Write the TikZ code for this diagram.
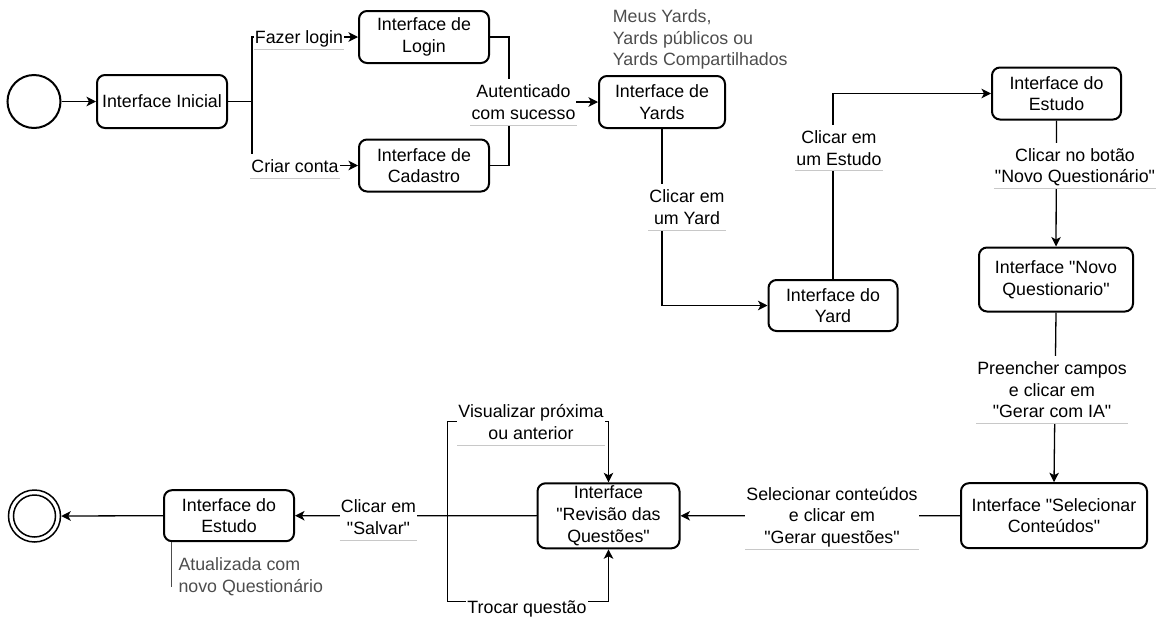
\documentclass[tikz,border=0pt]{standalone}
\usepackage{fontspec}
\setmainfont{Liberation Sans}[Ligatures=TeXOff]
\usetikzlibrary{arrows.meta,calc}
\definecolor{notegray}{RGB}{77,77,77}
\definecolor{ulgray}{RGB}{200,200,200}
\begin{document}
\begin{tikzpicture}[x=1pt,y=-1pt,
  every node/.style={font=\fontsize{17.8}{21.6}\selectfont},
  box/.style={draw,line width=2pt,rounded corners=8pt,align=center,inner sep=0pt,fill=white},
  edge/.style={line width=1.3pt},
  arr/.style={edge,-{Stealth[length=9.5pt,width=9.5pt,inset=2.5pt]}},
  lbl/.style={fill=white,align=center,inner xsep=1pt,inner ysep=5.5pt,text depth=0pt,anchor=south},
  ul/.style={draw=ulgray,line width=0.9pt},
  note/.style={text=notegray,align=left,inner sep=0pt,anchor=west},
]
\useasboundingbox (0,0) rectangle (1162,619);

% states
\node[circle,draw,line width=2pt,minimum size=53pt,inner sep=0pt] (start) at (34,101.5) {};
\node[box,minimum width=130pt,minimum height=53pt] (ini) at (162,101.5) {Interface Inicial};
\node[box,minimum width=130pt,minimum height=52pt] (login) at (424,37) {Interface de\\Login};
\node[box,minimum width=130pt,minimum height=52pt] (cad) at (424,165.5) {Interface de\\Cadastro};
\node[box,minimum width=126pt,minimum height=52pt] (yards) at (662,102) {Interface de\\Yards};
\node[box,minimum width=129pt,minimum height=51pt] (yard) at (833,305.5) {Interface do\\Yard};
\node[box,minimum width=129pt,minimum height=52pt] (estudo) at (1056.5,93.5) {Interface do\\Estudo};
\node[box,minimum width=154pt,minimum height=64pt] (novoq) at (1056,279.5) {Interface "Novo\\Questionario"};
\node[box,minimum width=186pt,minimum height=65pt] (sel) at (1054,515.7) {Interface "Selecionar\\Conteúdos"};
\node[box,minimum width=142pt,minimum height=65pt] (rev) at (608.5,515.8) {Interface\\"Revisão das\\Questões"};
\node[box,minimum width=130pt,minimum height=51pt] (est2) at (229,515.7) {Interface do\\Estudo};
\node[circle,draw,line width=1.5pt,minimum size=52pt,inner sep=0pt] (fim) at (34.5,516) {};
\node[circle,draw,line width=1.5pt,minimum size=42pt,inner sep=0pt] (fimin) at (fim) {};

% connectors
\coordinate (j1) at (252,101.5);
\coordinate (j2) at (509,102);
\coordinate (lt) at (447.7,421.7);
\coordinate (lb) at (447.7,601.3);
\draw[arr] (start) -- (ini);
\draw[edge] (ini.east) -- (j1);
\draw[arr] (j1) |- (login.west);
\draw[arr] (j1) |- (cad.west);
\draw[edge] (login.east) -| (j2);
\draw[edge] (cad.east) -| (j2);
\draw[arr] (j2) -- (yards.west);
\draw[arr] (yards.south) |- (yard.west);
\draw[arr] (yard.north) |- (estudo.west);
\draw[arr] (estudo.south) -- (novoq.north);
\draw[arr] (novoq.south) -- (sel.north);
\draw[arr] (sel.west) -- (rev.east);
\draw[arr] (rev.west) -- (est2.east);
\draw[arr] (est2.west) -- (fim.east);
\draw[arr] (rev.west) -- (rev.west -| lt) -- (lt) -| (rev.north);
\draw[arr] (rev.west) -- (rev.west -| lb) -- (lb) -| (rev.south);
\draw[edge,draw=notegray] ([xshift=8.4pt]est2.south west) -- ++(0,44.4);

% connector labels
\node[lbl] (lfazer) at (299,49.3) {Fazer login};
\draw[ul] (lfazer.south west) -- (lfazer.south east);
\node[lbl] (lcriar) at (295,178.3) {Criar conta};
\draw[ul] (lcriar.south west) -- (lcriar.south east);
\node[lbl] (laut) at (523.5,125) {Autenticado\\com sucesso};
\draw[ul] (laut.south west) -- (laut.south east);
\node[lbl] (lyard) at (687,230) {Clicar em\\um Yard};
\draw[ul] (lyard.south west) -- (lyard.south east);
\node[lbl] (lestudo) at (839,170.7) {Clicar em\\um Estudo};
\draw[ul] (lestudo.south west) -- (lestudo.south east);
\node[lbl] (lbotao) at (1075,188.3) {Clicar no botão\\"Novo Questionário"};
\draw[ul] (lbotao.south west) -- (lbotao.south east);
\node[lbl] (lpreen) at (1052,423.3) {Preencher campos\\e clicar em\\"Gerar com IA"};
\draw[ul] (lpreen.south west) -- (lpreen.south east);
\node[lbl] (lsel) at (832,549) {Selecionar conteúdos\\e clicar em\\"Gerar questões"};
\draw[ul] (lsel.south west) -- (lsel.south east);
\node[lbl] (lvis) at (531,445) {Visualizar próxima\\ou anterior};
\draw[ul] (lvis.south west) -- (lvis.south east);
\node[fill=white,inner xsep=1pt,inner ysep=3pt] (ltroca) at (527,609) {Trocar questão};
\node[lbl] (lsalvar) at (378.5,540) {Clicar em\\"Salvar"};
\draw[ul] (lsalvar.south west) -- (lsalvar.south east);

% annotations
\node[note] (nyards) at (612.7,39.5) {Meus Yards,\\Yards públicos ou\\Yards Compartilhados};
\node[note] (nest) at (178.3,576.5) {Atualizada com\\novo Questionário};
\end{tikzpicture}
\end{document}
